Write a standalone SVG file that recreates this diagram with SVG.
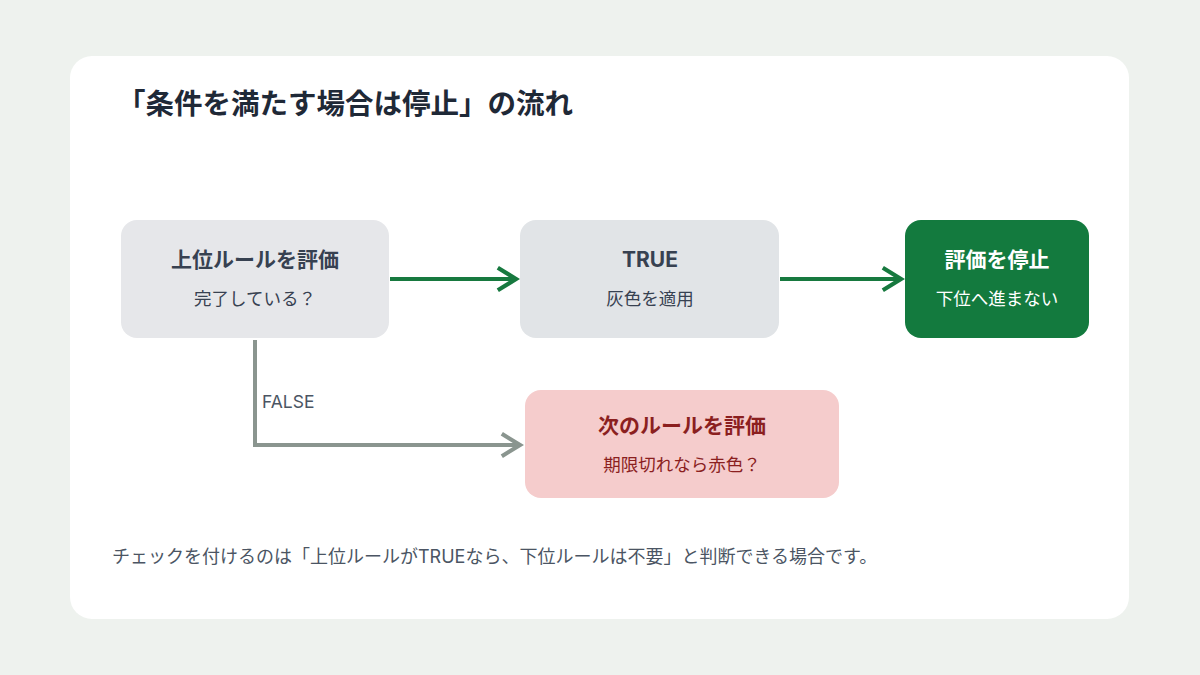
<svg xmlns="http://www.w3.org/2000/svg" width="1200" height="675" viewBox="0 0 1200 675">
<style>
text{font-family:"Inter","Noto Sans CJK JP",sans-serif}
.t{font-size:21px;font-weight:700;text-anchor:middle}
.s{font-size:17.5px;text-anchor:middle}
</style>
<defs>
<marker id="ag" viewBox="0 0 20 20" refX="17" refY="10" markerWidth="7" markerHeight="7" markerUnits="strokeWidth" orient="auto"><path d="M4 2 L17 10 L4 18" fill="none" stroke="#17793f" stroke-width="3"/></marker>
<marker id="ay" viewBox="0 0 20 20" refX="17" refY="10" markerWidth="7" markerHeight="7" markerUnits="strokeWidth" orient="auto"><path d="M4 2 L17 10 L4 18" fill="none" stroke="#8a958f" stroke-width="3"/></marker>
</defs>
<rect width="1200" height="675" fill="#eef2ee"/>
<rect x="70" y="56" width="1059" height="563" rx="22" fill="#fff"/>
<text x="117" y="114" font-size="28.5" font-weight="700" fill="#1f2937">「条件を満たす場合は停止」の流れ</text>
<g id="connectors" fill="none" stroke-width="4">
<path d="M390 279 H516" stroke="#17793f" marker-end="url(#ag)"/>
<path d="M780 279 H901" stroke="#17793f" marker-end="url(#ag)"/>
<path d="M255 340 V445 H520" stroke="#8a958f" marker-end="url(#ay)"/>
<text x="262" y="408" font-size="17.5" fill="#4b5563" stroke="none">FALSE</text>
</g>
<g id="n1"><rect x="121" y="220" width="268" height="118" rx="16" fill="#e6e7ea"/>
<text class="t" x="255" y="267" fill="#374151">上位ルールを評価</text><text class="s" x="255" y="305" fill="#374151">完了している？</text></g>
<g id="n2"><rect x="520" y="220" width="259" height="118" rx="16" fill="#e1e4e7"/>
<text class="t" x="650" y="267" fill="#374151">TRUE</text><text class="s" x="650" y="305" fill="#374151">灰色を適用</text></g>
<g id="n3"><rect x="905" y="220" width="184" height="118" rx="16" fill="#137a3e"/>
<text class="t" x="997" y="267" fill="#fff">評価を停止</text><text class="s" x="997" y="305" fill="#fff">下位へ進まない</text></g>
<g id="n4"><rect x="525" y="390" width="314" height="108" rx="16" fill="#f5cccc"/>
<text class="t" x="682" y="433" fill="#8b1f1f">次のルールを評価</text><text class="s" x="682" y="471" fill="#8b1f1f">期限切れなら赤色？</text></g>
<text x="112" y="563" font-size="18" fill="#4b5563">チェックを付けるのは「上位ルールがTRUEなら、下位ルールは不要」と判断できる場合です。</text>
</svg>
